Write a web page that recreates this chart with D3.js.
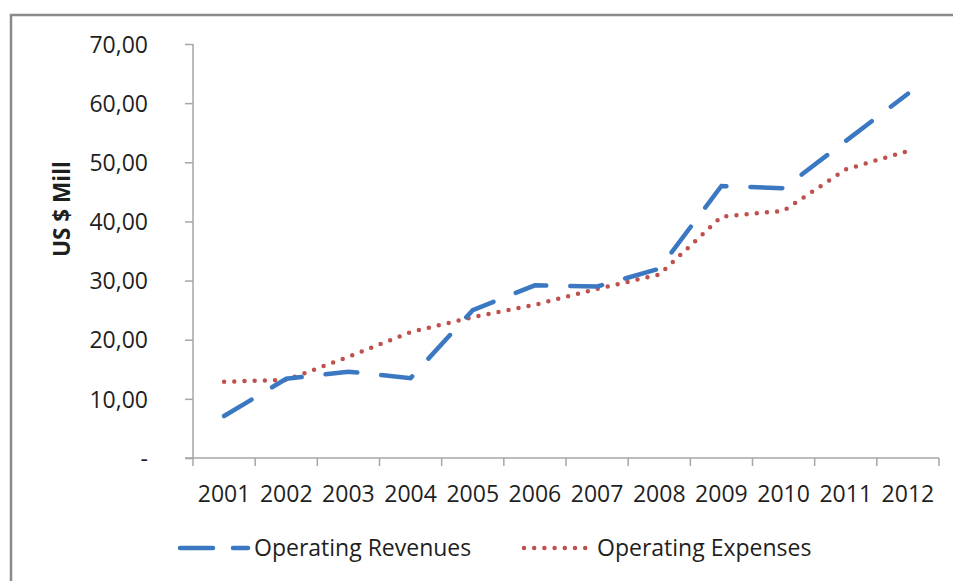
<!DOCTYPE html>
<html>
<head>
<meta charset="utf-8">
<script src="https://cdn.jsdelivr.net/npm/d3@7/dist/d3.min.js"></script>
<style>
  html, body { margin: 0; padding: 0; background: #fff; }
  svg text { font-family: "Open Sans", sans-serif; fill: #1f1f1f; }
</style>
</head>
<body>
<div id="chart"></div>
<script>
// data
var years = ["2001", "2002", "2003", "2004", "2005", "2006", "2007", "2008", "2009", "2010", "2011", "2012"];
var revenues = [7.1, 13.4, 14.6, 13.5, 25.0, 29.2, 29.0, 32.0, 46.0, 45.6, 53.6, 61.6];
var expenses = [12.9, 13.2, 17.1, 21.3, 23.8, 25.9, 28.6, 31.0, 40.8, 41.8, 48.8, 51.9];
var yTicks = [0, 10, 20, 30, 40, 50, 60, 70];

var W = 953, H = 581;
var margin = { top: 44, right: 14, bottom: 123, left: 193 };
var width = W - margin.left - margin.right,
    height = H - margin.top - margin.bottom;

var svg = d3.select("#chart").append("svg")
    .attr("width", W)
    .attr("height", H);

// chart frame
svg.append("rect")
    .attr("x", 11).attr("y", 15)
    .attr("width", W + 20).attr("height", H + 20)
    .attr("fill", "none")
    .attr("stroke", "#8a8a8a")
    .attr("stroke-width", 2.5);

var g = svg.append("g")
    .attr("transform", "translate(" + margin.left + "," + margin.top + ")");

var x = d3.scaleBand().domain(years).range([0, width]);
var y = d3.scaleLinear().domain([0, 70]).range([height, 0]);

// y axis
var yAxis = d3.axisLeft(y)
    .tickValues(yTicks)
    .tickSize(8)
    .tickPadding(37)
    .tickFormat(function(d) { return d === 0 ? "-" : d3.format(".2f")(d).replace(".", ","); });
var ya = g.append("g").call(yAxis);
ya.select(".domain").attr("stroke", "#a6a6a6").attr("stroke-width", 1.5).attr("d", "M0," + height + "V0");
ya.selectAll(".tick line").attr("stroke", "#a6a6a6").attr("stroke-width", 1.5);
ya.selectAll(".tick text")
    .style("font-size", "23px")
    .style("font-family", "Open Sans, sans-serif")
    .attr("fill", "#1f1f1f")
    .attr("dy", "0.36em");

// x axis with ticks at band edges
var xa = g.append("g").attr("transform", "translate(0," + height + ")");
xa.append("line")
    .attr("x1", -8).attr("x2", width)
    .attr("stroke", "#a6a6a6").attr("stroke-width", 1.5);
xa.selectAll("line.tk")
    .data(years.concat(["end"]))
    .enter().append("line")
    .attr("class", "tk")
    .attr("x1", function(d, i) { return i * x.bandwidth(); })
    .attr("x2", function(d, i) { return i * x.bandwidth(); })
    .attr("y1", 0).attr("y2", 8)
    .attr("stroke", "#a6a6a6").attr("stroke-width", 1.5);
xa.selectAll("text")
    .data(years)
    .enter().append("text")
    .attr("x", function(d) { return x(d) + x.bandwidth() / 2; })
    .attr("y", 44)
    .attr("text-anchor", "middle")
    .style("font-size", "23px")
    .text(function(d) { return d; });

// y title
svg.append("text")
    .attr("transform", "translate(70,209) rotate(-90)")
    .attr("text-anchor", "middle")
    .attr("textLength", 96)
    .attr("lengthAdjust", "spacingAndGlyphs")
    .style("font-size", "24px")
    .style("font-weight", "bold")
    .attr("fill", "#000")
    .text("US $ Mill");

var line = d3.line()
    .x(function(d, i) { return x(years[i]) + x.bandwidth() / 2; })
    .y(function(d) { return y(d); });

g.append("path")
    .datum(expenses)
    .attr("d", line)
    .attr("fill", "none")
    .attr("stroke", "#c0504d")
    .attr("stroke-width", 4.5)
    .attr("stroke-linecap", "round")
    .attr("stroke-dasharray", "0 10.2");

g.append("path")
    .datum(revenues)
    .attr("d", line)
    .attr("fill", "none")
    .attr("stroke", "#3b78c2")
    .attr("stroke-width", 4.5)
    .attr("stroke-linecap", "round")
    .attr("stroke-dasharray", "32 24");

// legend
var legend = [
  { name: "Operating Revenues", color: "#3b78c2", dash: "33 20", x0: 180, x1: 248, tx: 254 },
  { name: "Operating Expenses", color: "#c0504d", dash: "0 10.2", x0: 524, x1: 586, tx: 597 }
];
var lg = svg.selectAll("g.legend").data(legend).enter().append("g").attr("class", "legend");
lg.append("line")
    .attr("x1", function(d) { return d.x0; })
    .attr("x2", function(d) { return d.x1; })
    .attr("y1", 548).attr("y2", 548)
    .attr("stroke", function(d) { return d.color; })
    .attr("stroke-width", 4.5)
    .attr("stroke-linecap", "round")
    .attr("stroke-dasharray", function(d) { return d.dash; });
lg.append("text")
    .attr("x", function(d) { return d.tx; })
    .attr("y", 548)
    .attr("dy", "0.36em")
    .style("font-size", "23px")
    .text(function(d) { return d.name; });
</script>
</body>
</html>
